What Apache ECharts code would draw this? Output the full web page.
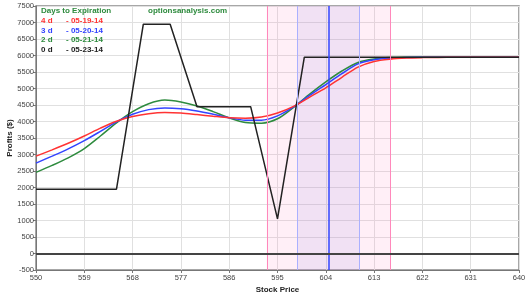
<!DOCTYPE html>
<html>
<head>
<meta charset="utf-8">
<script src="https://cdn.jsdelivr.net/npm/echarts@6/dist/echarts.min.js"></script>
<style>
  html, body { margin: 0; padding: 0; background: #fff; }
  #chart { width: 527px; height: 296px; }
</style>
</head>
<body>
<div id="chart"></div>
<script>
// stock prices used to sample the time curves (every 3 points)
const prices = [550, 553, 556, 559, 562, 565, 568, 571, 574, 577, 580, 583, 586, 589, 592, 595, 598, 601, 604, 607, 610, 613, 616, 619, 622, 625, 628, 631, 634, 637, 640];
// 4 d - 05-19-14
const red4d = [2950, 3140, 3340, 3560, 3800, 4010, 4150, 4235, 4270, 4255, 4210, 4160, 4115, 4100, 4135, 4260, 4460, 4740, 5020, 5340, 5650, 5820, 5890, 5922, 5936, 5943, 5947, 5949, 5950, 5950, 5950];
// 3 d - 05-20-14
const blue3d = [2740, 2950, 3170, 3420, 3700, 3990, 4220, 4360, 4410, 4385, 4315, 4220, 4115, 4040, 4040, 4170, 4440, 4790, 5120, 5450, 5745, 5870, 5918, 5940, 5946, 5949, 5950, 5950, 5950, 5950, 5950];
// 2 d - 05-21-14
const green2d = [2460, 2670, 2900, 3180, 3560, 3960, 4300, 4540, 4650, 4590, 4470, 4300, 4110, 3970, 3950, 4082, 4430, 4830, 5200, 5530, 5790, 5895, 5937, 5948, 5950, 5950, 5950, 5950, 5950, 5950, 5950];
// 0 d - 05-23-14 (expiration)
const expPrices = [550, 565, 570, 575, 580, 590, 595, 600, 640];
const expProfit = [1950, 1950, 6950, 6950, 4450, 4450, 1050, 5950, 5950];

const currentPrice = 604.5;
const sd1 = [598.75, 610.25];
const sd2 = [593, 616];

const zip = (xs, ys) => xs.map((x, i) => [x, ys[i]]);

const chart = echarts.init(document.getElementById('chart'));

const lineStyle = (color) => ({ color: color, width: 1.5 });
const legendFont = 'bold 8px Liberation Sans, Arial, sans-serif';

const option = {
  animation: false,
  textStyle: { fontFamily: 'Liberation Sans, Arial, sans-serif' },
  grid: {
    left: 36, right: 8, top: 6, bottom: 26,
    outerBoundsMode: 'none',
    containLabel: false,
    show: true, borderColor: '#8a8a8a', borderWidth: 1.5
  },
  xAxis: {
    type: 'value',
    min: 550, max: 640, interval: 9,
    name: 'Stock Price',
    nameLocation: 'middle',
    nameGap: 16,
    nameMoveOverlap: false,
    nameTextStyle: { fontSize: 8, fontWeight: 'bold', color: '#222' },
    axisLine: { show: true, onZero: false, lineStyle: { color: '#777' } },
    axisTick: { show: true, length: 3, lineStyle: { color: '#777' } },
    axisLabel: { fontSize: 7.5, color: '#444', margin: 4, formatter: (v) => String(v) },
    splitLine: { show: true, lineStyle: { color: '#e0e0e0' } }
  },
  yAxis: {
    type: 'value',
    min: -500, max: 7500, interval: 500,
    name: 'Profits ($)',
    nameLocation: 'middle',
    nameGap: 22,
    nameMoveOverlap: false,
    nameRotate: 90,
    nameTextStyle: { fontSize: 8, fontWeight: 'bold', color: '#222' },
    axisLine: { show: true, lineStyle: { color: '#777' } },
    axisTick: { show: true, length: 3, lineStyle: { color: '#777' } },
    axisLabel: { fontSize: 7.5, color: '#444', margin: 2, formatter: (v) => String(v) },
    splitLine: { show: true, lineStyle: { color: '#e0e0e0' } }
  },
  graphic: [
    { type: 'text', z: 100, left: 41, top: 7, style: { text: 'Days to Expiration', fill: '#2e8b3e', font: legendFont } },
    { type: 'text', z: 100, left: 148, top: 7, style: { text: 'optionsanalysis.com', fill: '#2e8b3e', font: legendFont } },
    { type: 'text', z: 100, left: 41, top: 17, style: { text: '4 d', fill: '#ff3333', font: legendFont } },
    { type: 'text', z: 100, left: 66, top: 17, style: { text: '- 05-19-14', fill: '#ff3333', font: legendFont } },
    { type: 'text', z: 100, left: 41, top: 26.5, style: { text: '3 d', fill: '#3344ff', font: legendFont } },
    { type: 'text', z: 100, left: 66, top: 26.5, style: { text: '- 05-20-14', fill: '#3344ff', font: legendFont } },
    { type: 'text', z: 100, left: 41, top: 36, style: { text: '2 d', fill: '#2e8b3e', font: legendFont } },
    { type: 'text', z: 100, left: 66, top: 36, style: { text: '- 05-21-14', fill: '#2e8b3e', font: legendFont } },
    { type: 'text', z: 100, left: 41, top: 45.5, style: { text: '0 d', fill: '#222', font: legendFont } },
    { type: 'text', z: 100, left: 66, top: 45.5, style: { text: '- 05-23-14', fill: '#222', font: legendFont } }
  ],
  series: [
    {
      // shaded standard deviation bands and reference lines
      type: 'line',
      data: [],
      silent: true,
      markArea: {
        silent: true,
        data: [
          [{ xAxis: sd2[0], itemStyle: { color: 'rgba(255,150,200,0.15)' } }, { xAxis: sd2[1] }],
          [{ xAxis: sd1[0], itemStyle: { color: 'rgba(120,110,230,0.10)' } }, { xAxis: sd1[1] }]
        ]
      },
      markLine: {
        silent: true,
        symbol: 'none',
        label: { show: false },
        data: [
          { xAxis: sd2[0], lineStyle: { color: '#ff88bb', width: 1, type: 'solid' } },
          { xAxis: sd2[1], lineStyle: { color: '#ff88bb', width: 1, type: 'solid' } },
          { xAxis: sd1[0], lineStyle: { color: '#aab0ff', width: 1, type: 'solid' } },
          { xAxis: sd1[1], lineStyle: { color: '#aab0ff', width: 1, type: 'solid' } },
          { xAxis: currentPrice, lineStyle: { color: '#3344ff', width: 1.5, type: 'solid' } },
          { yAxis: 0, lineStyle: { color: '#444', width: 2, type: 'solid' } }
        ]
      }
    },
    { name: '2 d', type: 'line', smooth: 0.3, showSymbol: false, data: zip(prices, green2d), lineStyle: lineStyle('#2e8b3e') },
    { name: '3 d', type: 'line', smooth: 0.3, showSymbol: false, data: zip(prices, blue3d), lineStyle: lineStyle('#3344ff') },
    { name: '4 d', type: 'line', smooth: 0.3, showSymbol: false, data: zip(prices, red4d), lineStyle: lineStyle('#ff3333') },
    { name: '0 d', type: 'line', showSymbol: false, data: zip(expPrices, expProfit), lineStyle: lineStyle('#222') }
  ]
};

chart.setOption(option);
</script>
</body>
</html>
